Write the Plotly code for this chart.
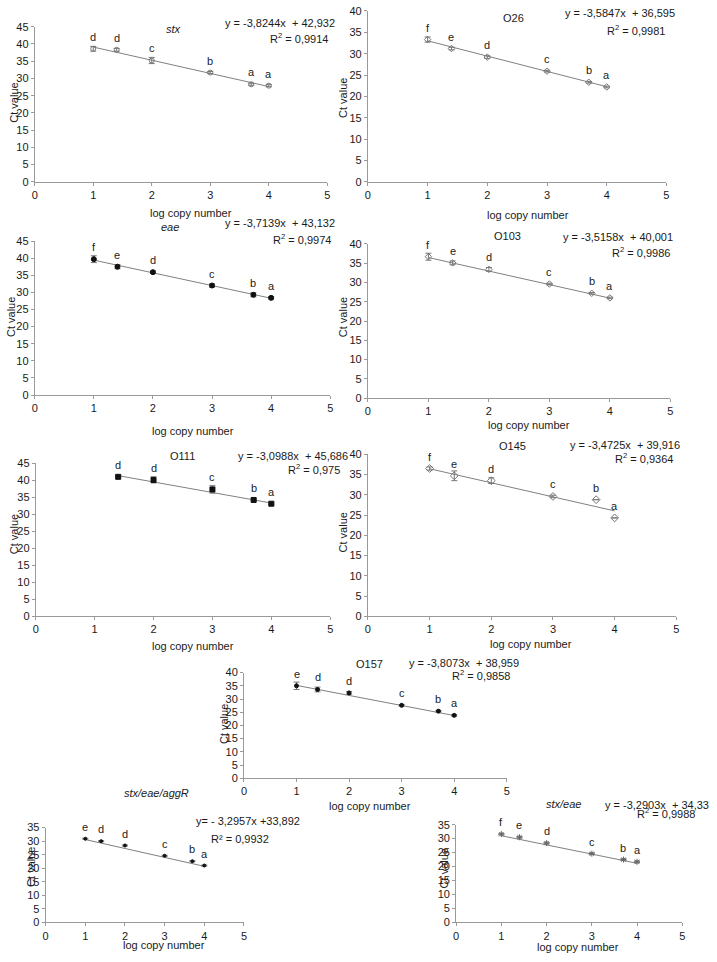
import plotly.graph_objects as go

# ---------------- data ----------------
log_copies = [1, 1.4, 2, 3, 3.7, 4]
log_copies_o111 = [1.4, 2, 3, 3.7, 4]

stx_ct = [38.6, 38.3, 35.2, 31.7, 28.3, 27.9]
stx_err = [0.7, 0.4, 0.9, 0.3, 0.3, 0.3]
stx_letters = ["d", "d", "c", "b", "a", "a"]

o26_ct = [33.3, 31.2, 29.2, 25.9, 23.3, 22.2]
o26_err = [0.6, 0.3, 0.3, 0.2, 0.2, 0.2]
o26_letters = ["f", "e", "d", "c", "b", "a"]

eae_ct = [39.7, 37.5, 35.9, 32.0, 29.3, 28.4]
eae_err = [1.0, 0.6, 0.4, 0.5, 0.6, 0.4]
eae_letters = ["f", "e", "d", "c", "b", "a"]

o103_ct = [36.7, 35.1, 33.4, 29.6, 27.2, 26.0]
o103_err = [0.9, 0.5, 0.5, 0.2, 0.2, 0.2]
o103_letters = ["f", "e", "d", "c", "b", "a"]

o111_ct = [41.0, 40.1, 37.3, 34.2, 33.1]
o111_err = [0.3, 0.9, 1.1, 0.3, 0.3]
o111_letters = ["d", "d", "c", "b", "a"]

o145_ct = [36.5, 34.7, 33.5, 29.6, 28.8, 24.3]
o145_err = [0.4, 1.2, 0.7, 0.3, 0.0, 0.0]
o145_letters = ["f", "e", "d", "c", "b", "a"]

o157_ct = [35.0, 33.6, 32.3, 27.6, 25.4, 23.8]
o157_err = [1.4, 0.9, 0.5, 0.3, 0.3, 0.3]
o157_letters = ["e", "d", "d", "c", "b", "a"]

aggr_ct = [30.9, 30.0, 28.4, 24.6, 22.6, 21.0]
aggr_err = [0.2, 0.2, 0.2, 0.2, 0.2, 0.2]
aggr_letters = ["e", "d", "d", "c", "b", "a"]

stxeae_ct = [31.6, 30.5, 28.4, 24.6, 22.5, 21.7]
stxeae_err = [0.3, 0.3, 0.3, 0.3, 0.3, 0.3]
stxeae_letters = ["f", "e", "d", "c", "b", "a"]

panel_titles = ["<i>stx</i>", "O26", "<i>eae</i>", "O103", "O111", "O145", "O157",
                "<i>stx/eae/aggR</i>", "<i>stx/eae</i>"]
slopes = [-3.8244, -3.5847, -3.7139, -3.5158, -3.0988, -3.4725, -3.8073, -3.2957, -3.2903]
intercepts = [42.932, 36.595, 43.132, 40.001, 45.686, 39.916, 38.959, 33.892, 34.33]
eq_labels = ["y = -3,8244x  + 42,932", "y = -3,5847x  + 36,595", "y = -3,7139x  + 43,132",
             "y = -3,5158x  + 40,001", "y = -3,0988x  + 45,686", "y = -3,4725x  + 39,916",
             "y = -3,8073x  + 38,959", "y= - 3,2957x +33,892", "y = -3,2903x  + 34,33"]
r2_labels = ["R<sup>2</sup> = 0,9914", "R<sup>2</sup> = 0,9981", "R<sup>2</sup> = 0,9974",
             "R<sup>2</sup> = 0,9986", "R<sup>2</sup> = 0,975", "R<sup>2</sup> = 0,9364",
             "R<sup>2</sup> = 0,9858", "R² = 0,9932", "R<sup>2</sup> = 0,9988"]
y_max = [45, 40, 45, 40, 45, 40, 40, 35, 35]

series = [
    (log_copies, stx_ct, stx_err, stx_letters),
    (log_copies, o26_ct, o26_err, o26_letters),
    (log_copies, eae_ct, eae_err, eae_letters),
    (log_copies, o103_ct, o103_err, o103_letters),
    (log_copies_o111, o111_ct, o111_err, o111_letters),
    (log_copies, o145_ct, o145_err, o145_letters),
    (log_copies, o157_ct, o157_err, o157_letters),
    (log_copies, aggr_ct, aggr_err, aggr_letters),
    (log_copies, stxeae_ct, stxeae_err, stxeae_letters),
]

# ---------------- layout geometry (page pixels) ----------------
W, H = 717, 962

# x0 px, x5 px, y0 px (value 0), ytop px (value y_max)
geom = [
    (32, 327, 178, 21),
    (368, 669, 178, 5),
    (32, 330, 394, 238),
    (368, 673, 397, 241),
    (33, 330, 618, 463),
    (368, 679, 618, 454),
    (243, 508, 782, 675),
    (43, 243, 928, 832),
    (457, 685, 928, 829),
]
marker_styles = [
    dict(symbol="circle-open", size=5, color="#777777"),
    dict(symbol="diamond-open", size=5, color="#777777"),
    dict(symbol="circle", size=5, color="#111111"),
    dict(symbol="diamond-open", size=5, color="#777777"),
    dict(symbol="square", size=5, color="#111111"),
    dict(symbol="diamond-open", size=6, color="#777777"),
    dict(symbol="circle", size=4, color="#111111"),
    dict(symbol="circle", size=3, color="#111111"),
    dict(symbol="asterisk-open", size=5, color="#666666", line=dict(width=1, color="#666666")),
]
# title (x,y), equation (anchor x, y, xanchor), r2 (anchor x, y, xanchor), Ct value (x,y), xtitle (x,y)
text_pos = [
    ((172, 23), (337, 17, "right"), (330, 32, "right"), (11, 98), (190, 210)),
    ((515, 12), (680, 7, "right"), (670, 24, "right"), (343, 93), (529, 212)),
    ((168, 224), (337, 220, "right"), (333, 236, "right"), (8, 315), (192, 430)),
    ((509, 233), (678, 234, "right"), (675, 249, "right"), (343, 315), (530, 424)),
    ((181, 456), (350, 456, "right"), (342, 469, "right"), (11, 535), (192, 648)),
    ((514, 446), (685, 445, "right"), (678, 458, "right"), (343, 533), (532, 646)),
    ((370, 666), (522, 665, "right"), (513, 677, "right"), (223, 727), (370, 810)),
    ((155, 797), (193, 825, "left"), (208, 844, "left"), (28, 872), (162, 951)),
    ((565, 808), (714, 809, "right"), (700, 817, "right"), (445, 873), (580, 953)),
]

FONT = "Liberation Sans, Arial, sans-serif"
TXT = "#1a1a1a"
AX = "#9a9a9a"

fig = go.Figure()
annotations = []
layout_axes = {}


def px_x(p):
    return p / W


def px_y(p):
    return 1 - p / H


for i, ((xs, ys, errs, letters), (x0, x5, y0, yt)) in enumerate(zip(series, geom)):
    n = "" if i == 0 else str(i + 1)
    xa, ya = "x" + n, "y" + n
    # trendline from displayed equation
    xl = [xs[0], xs[-1]]
    yl = [slopes[i] * v + intercepts[i] for v in xl]
    fig.add_trace(go.Scatter(x=xl, y=yl, mode="lines", xaxis=xa, yaxis=ya,
                             line=dict(color="#808080", width=1), showlegend=False,
                             hoverinfo="skip"))
    ms = dict(marker_styles[i])
    if "line" not in ms:
        ms["line"] = dict(width=1, color=ms["color"])
    fig.add_trace(go.Scatter(
        x=xs, y=ys, mode="markers", xaxis=xa, yaxis=ya, marker=ms, showlegend=False,
        error_y=dict(type="data", array=errs, visible=True, color="#777777",
                     thickness=1, width=3)))
    layout_axes["xaxis" + n] = dict(
        domain=[px_x(x0), px_x(x5)], range=[0, 5], anchor=ya, dtick=1, tick0=0,
        showline=True, linecolor=AX, linewidth=1, ticks="outside", ticklen=3,
        tickcolor=AX, showgrid=False, zeroline=False, fixedrange=True,
        tickfont=dict(family=FONT, size=11, color=TXT))
    layout_axes["yaxis" + n] = dict(
        domain=[px_y(y0), px_y(yt)], range=[0, y_max[i]], anchor=xa, dtick=5, tick0=0,
        showline=True, linecolor=AX, linewidth=1, ticks="outside", ticklen=3,
        tickcolor=AX, showgrid=False, zeroline=False, fixedrange=True,
        tickfont=dict(family=FONT, size=11, color=TXT))
    # significance letters
    for xv, yv, lt in zip(xs, ys, letters):
        annotations.append(dict(x=xv, y=yv, xref=xa, yref=ya, text=lt, showarrow=False,
                                yshift=12, yanchor="middle",
                                font=dict(family=FONT, size=11, color=TXT)))
    (tx, ty), (ex, ey, exa), (rx, ry, rxa), (cx, cy), (lx, ly) = text_pos[i]
    annotations.append(dict(x=px_x(tx), y=px_y(ty), xref="paper", yref="paper",
                            text=panel_titles[i], showarrow=False, xanchor="center",
                            yanchor="middle", font=dict(family=FONT, size=11, color=TXT)))
    annotations.append(dict(x=px_x(ex), y=px_y(ey), xref="paper", yref="paper",
                            text=eq_labels[i], showarrow=False, xanchor=exa,
                            yanchor="middle", font=dict(family=FONT, size=11, color=TXT)))
    annotations.append(dict(x=px_x(rx), y=px_y(ry), xref="paper", yref="paper",
                            text=r2_labels[i], showarrow=False, xanchor=rxa,
                            yanchor="middle", font=dict(family=FONT, size=11, color=TXT)))
    annotations.append(dict(x=px_x(cx), y=px_y(cy), xref="paper", yref="paper",
                            text="Ct value", textangle=-90, showarrow=False,
                            xanchor="center", yanchor="middle",
                            font=dict(family=FONT, size=11, color=TXT)))
    annotations.append(dict(x=px_x(lx), y=px_y(ly), xref="paper", yref="paper",
                            text="log copy number", showarrow=False, xanchor="center",
                            yanchor="middle", font=dict(family=FONT, size=11, color=TXT)))

fig.update_layout(
    width=W, height=H, autosize=False,
    margin=dict(l=0, r=0, t=0, b=0),
    paper_bgcolor="white", plot_bgcolor="white",
    showlegend=False,
    annotations=annotations,
    font=dict(family=FONT, size=11, color=TXT),
    **layout_axes,
)

fig.write_html("out.html", config={"displayModeBar": False},
               post_script="document.body.style.margin='0';document.body.style.overflow='hidden';")
